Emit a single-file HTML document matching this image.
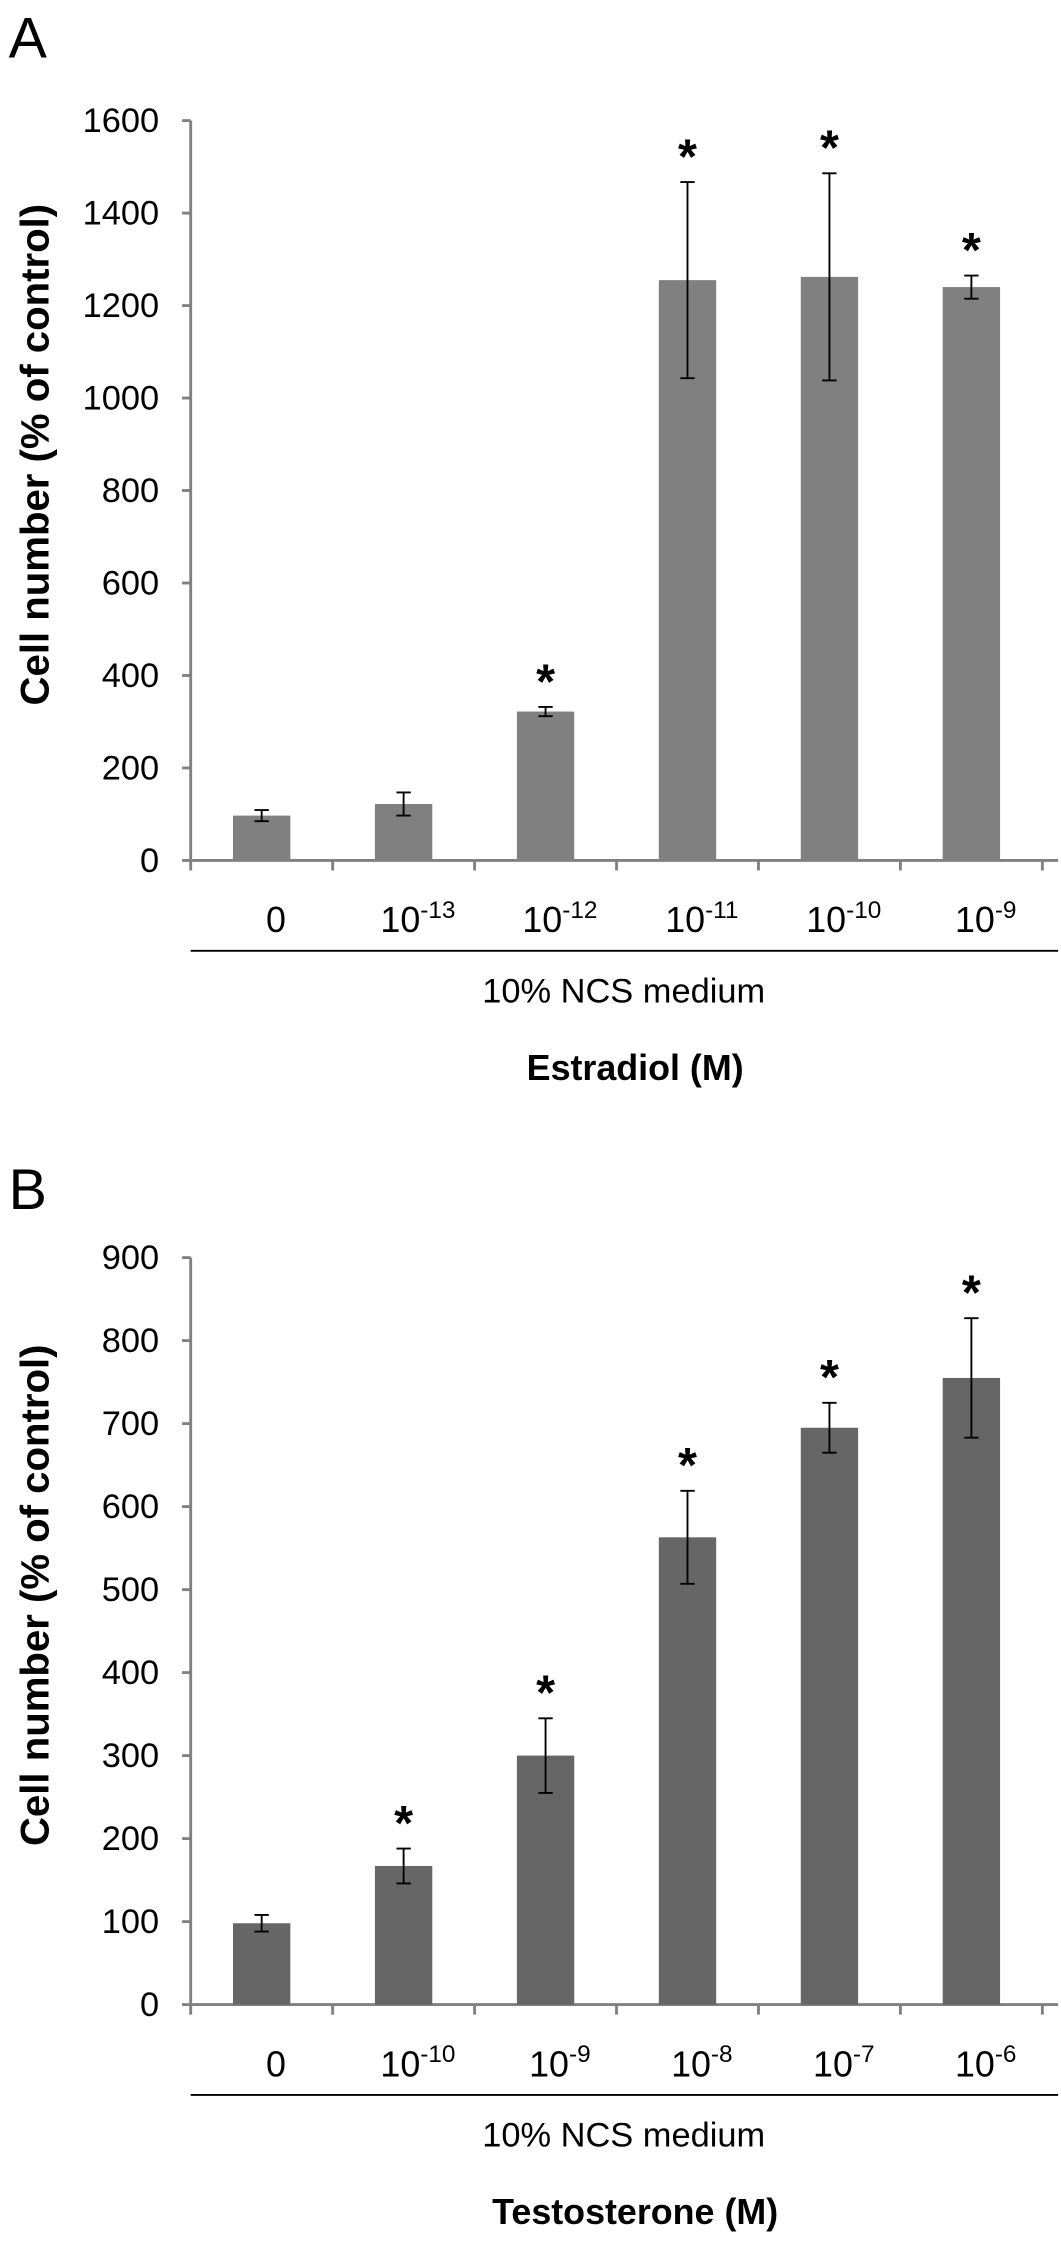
<!DOCTYPE html>
<html><head><meta charset="utf-8"><style>
html,body{margin:0;padding:0;background:#fff;}
svg{display:block;font-family:"Liberation Sans",Arial,sans-serif;}
</style></head><body>
<svg id="chart" width="1061" height="2260" viewBox="0 0 740 1576" xmlns="http://www.w3.org/2000/svg"></svg>
<script>
// Panel A data
const catsA = ["0","-13","-12","-11","-10","-9"];
const valsA = [97, 122, 322, 1255, 1262, 1240];
const errA = [12, 25, 10, 212, 224, 25];
const starA = [false, false, true, true, true, true];
const ticksA = [0,200,400,600,800,1000,1200,1400,1600];
// Panel B data
const catsB = ["0","-10","-9","-8","-7","-6"];
const valsB = [98, 167, 300, 563, 695, 755];
const errB = [10, 21, 45, 56, 30, 72];
const starB = [false, true, true, true, true, true];
const ticksB = [0,100,200,300,400,500,600,700,800,900];

const svg = document.getElementById('chart');
const NS = "http://www.w3.org/2000/svg";
function mk(tag, attrs, parent){
  const e = document.createElementNS(NS, tag);
  for (const k in attrs) e.setAttribute(k, attrs[k]);
  (parent||svg).appendChild(e); return e;
}
function panel(cfg){
  const g = mk('g', {});
  
  
  const x0 = 133, x1 = 738, yTop = cfg.yTop, yBot = cfg.yBot;
  const maxV = cfg.ticks[cfg.ticks.length-1];
  const y = v => yBot - (v/maxV)*(yBot-yTop);
  const n = cfg.cats.length;
  const step = (x1 - x0 - 11)/n;
  const cx = i => x0 + step*(i+0.5);
  const letter = mk('text', {x:6, y:cfg.letterY, 'font-size':40, fill:'#000'}, g);
  letter.textContent = cfg.letter;
  
  
  const ya = mk('line', {x1:x0, y1:yTop, x2:x0, y2:yBot, stroke:'#808080', 'stroke-width':2}, g);
  
  
  cfg.ticks.forEach(t => {
    mk('line', {x1:x0-6, y1:y(t), x2:x0, y2:y(t), stroke:'#808080', 'stroke-width':2}, g);
    const tl = mk('text', {x:x0-22, y:y(t)+8, 'font-size':24, 'text-anchor':'end', fill:'#000'}, g);
    tl.textContent = t;
    
    
  });
  const xa = mk('line', {x1:x0, y1:yBot, x2:x1, y2:yBot, stroke:'#808080', 'stroke-width':2}, g);
  
  
  for (let i=0;i<=n;i++){
    const tx = x0 + step*i;
    mk('line', {x1:tx, y1:yBot, x2:tx, y2:yBot+7, stroke:'#808080', 'stroke-width':2}, g);
  }
  cfg.cats.forEach((c,i) => {
    const v = cfg.vals[i], e = cfg.errs[i];
    const bar = mk('rect', {x:cx(i)-20, y:y(v), width:40, height:yBot-y(v), fill:cfg.color}, g);
    
    
    const eb = mk('path', {d:`M${cx(i)},${y(v+e)}V${y(v-e)}M${cx(i)-5},${y(v+e)}H${cx(i)+5}M${cx(i)-5},${y(v-e)}H${cx(i)+5}`, stroke:'#000', 'stroke-width':1.3, fill:'none'}, g);
    
    
    if (cfg.stars[i]) {
      const s = mk('text', {x:cx(i), y:y(v+e)-6, 'font-size':34, 'font-weight':'bold', 'text-anchor':'middle', fill:'#000'}, g);
      s.textContent = '*';
      
      
    }
    const lab = mk('text', {x:cx(i)+10, y:yBot+50, 'font-size':25, 'text-anchor':'middle', fill:'#000'}, g);
    
    
    if (c === "0") lab.textContent = "0";
    else {
      lab.appendChild(document.createTextNode("10"));
      const sp = document.createElementNS(NS, 'tspan');
      sp.setAttribute('dy', -10); sp.setAttribute('font-size', 17);
      sp.textContent = c; lab.appendChild(sp);
    }
  });
  mk('line', {x1:x0, y1:yBot+63, x2:x1, y2:yBot+63, stroke:'#000', 'stroke-width':1.3}, g);
  const ncs = mk('text', {x:435, y:yBot+99, 'font-size':24, 'text-anchor':'middle', fill:'#000'}, g);
  ncs.textContent = '10% NCS medium';
  
  
  const xt = mk('text', {x:443, y:yBot+153, 'font-size':25, 'font-weight':'bold', 'text-anchor':'middle', fill:'#000'}, g);
  xt.textContent = cfg.xTitle;
  
  
  const ymid = (yTop+yBot)/2 - 25;
  const yt = mk('text', {x:0, y:0, 'font-size':28, 'font-weight':'bold', 'text-anchor':'middle', fill:'#000', transform:`translate(34,${ymid}) rotate(-90)`}, g);
  yt.textContent = 'Cell number (% of control)';
  
  
}
panel({name:'panel-a-estradiol', letter:'A', letterY:40, yTop:84, yBot:600, cats:catsA, vals:valsA, errs:errA, stars:starA, ticks:ticksA, color:'#808080', xTitle:'Estradiol (M)'});
panel({name:'panel-b-testosterone', letter:'B', letterY:843, yTop:877, yBot:1398, cats:catsB, vals:valsB, errs:errB, stars:starB, ticks:ticksB, color:'#666666', xTitle:'Testosterone (M)'});
</script>
</body></html>
